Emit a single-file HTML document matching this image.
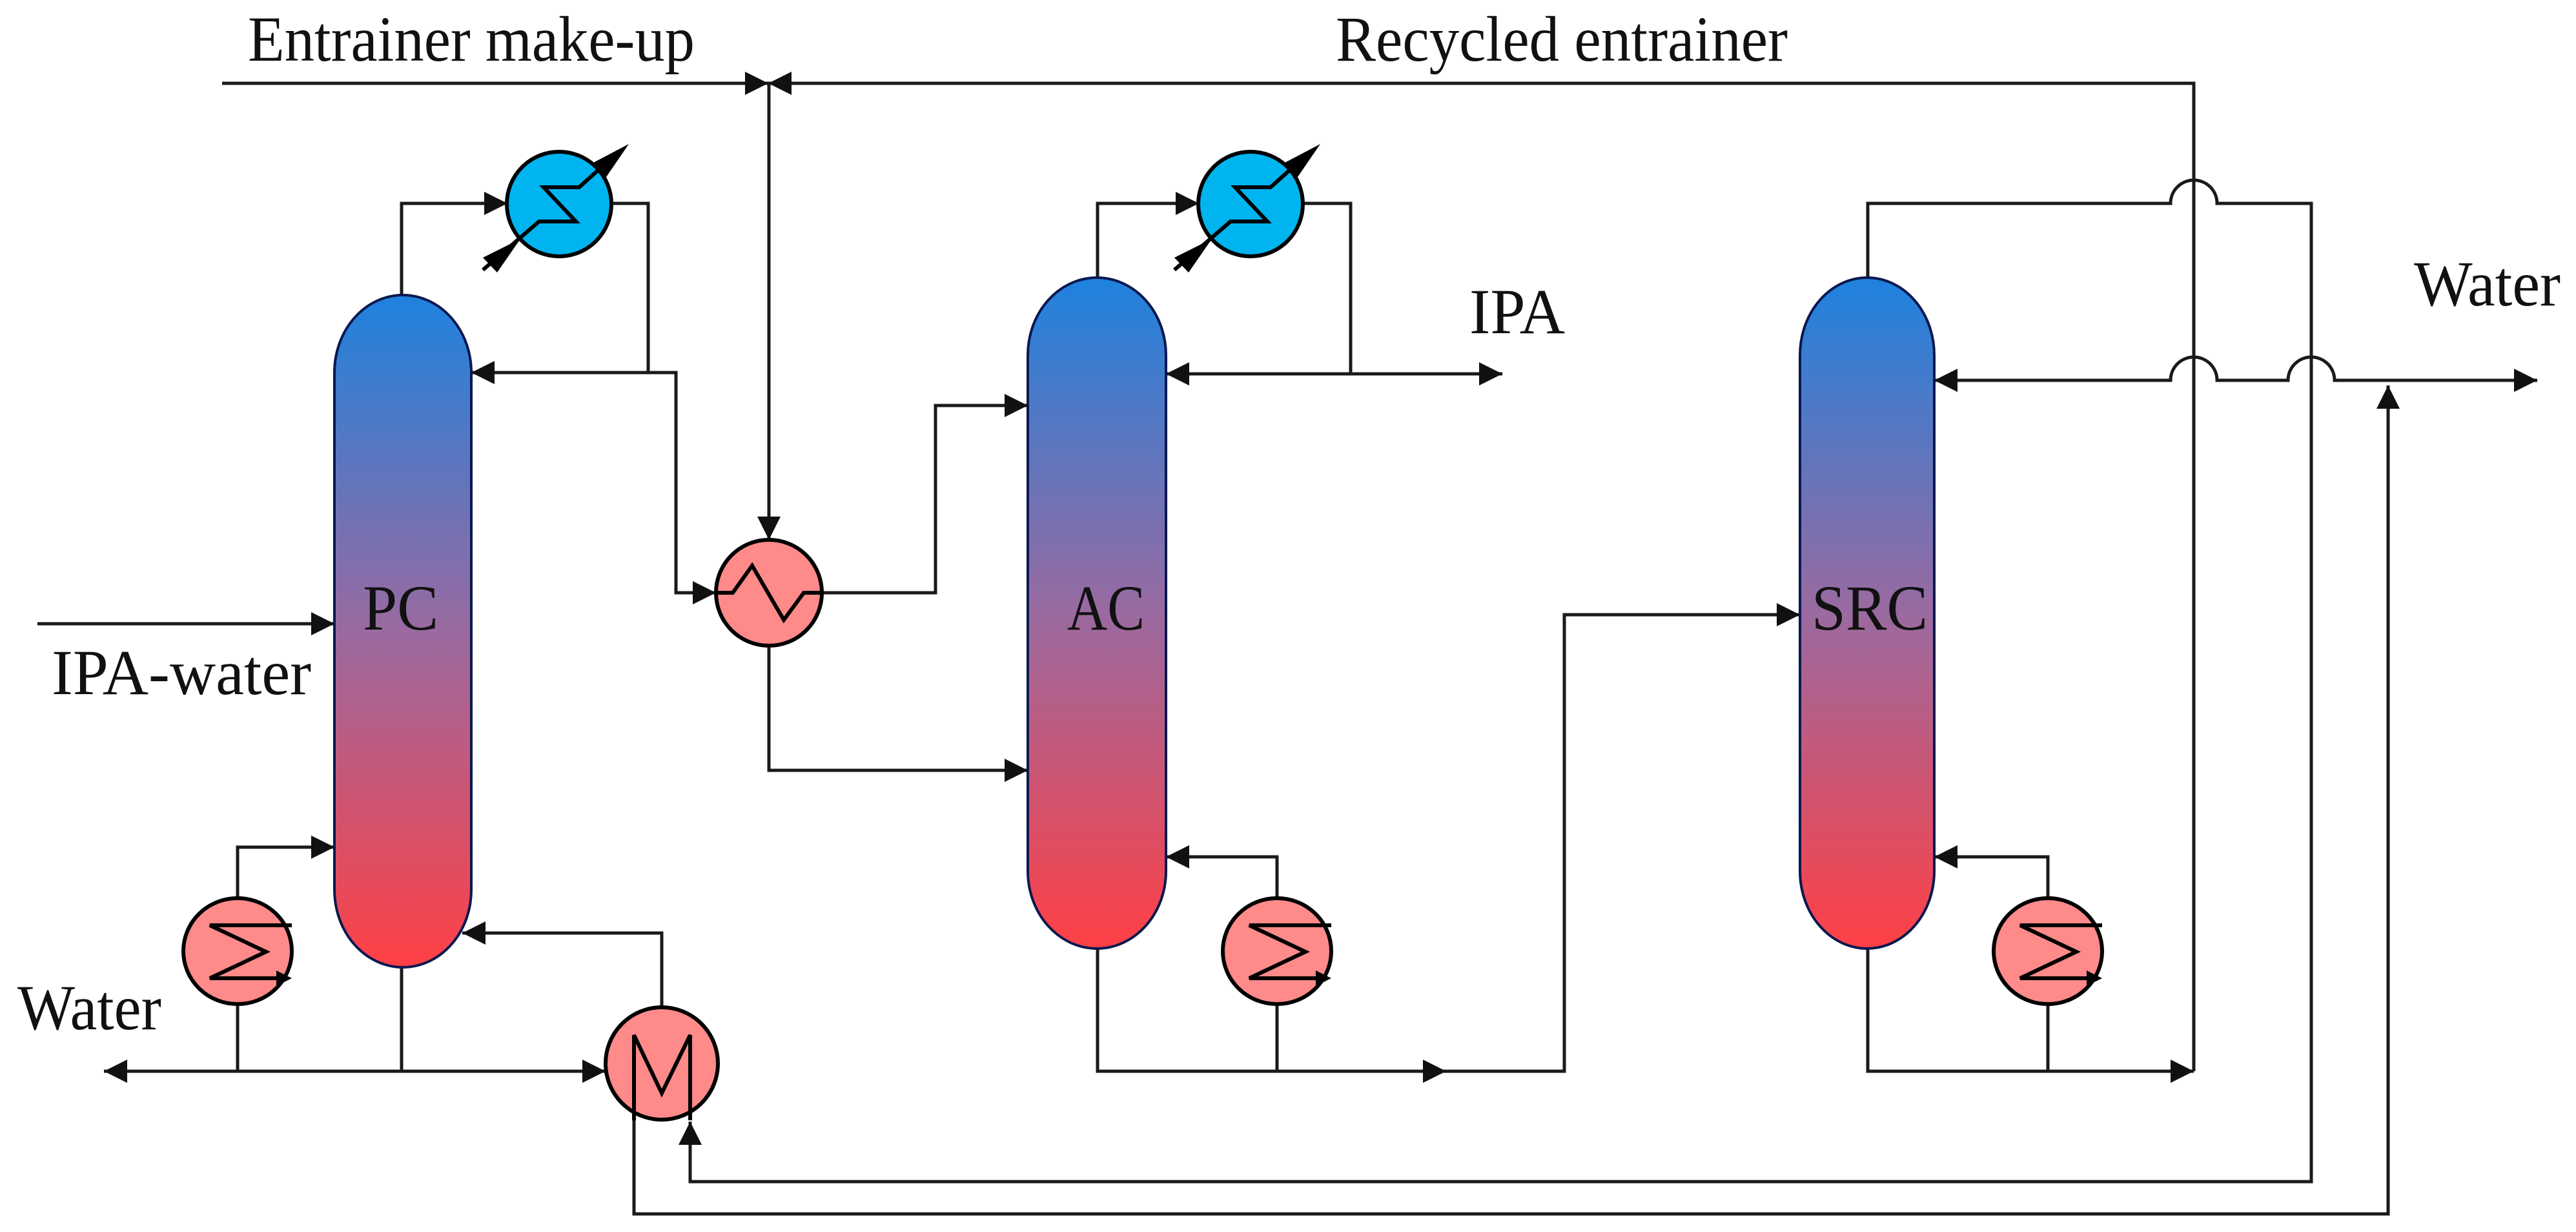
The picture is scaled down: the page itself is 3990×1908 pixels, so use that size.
<!DOCTYPE html>
<html><head><meta charset="utf-8"><style>
html,body{margin:0;padding:0;background:#fff;}
svg{display:block;}
text{font-family:"Liberation Serif",serif;fill:#111;}
</style></head><body>
<svg width="3990" height="1908" viewBox="0 0 3990 1908" xmlns="http://www.w3.org/2000/svg">
<defs>
<linearGradient id="g" x1="0" y1="0" x2="0" y2="1">
<stop offset="0" stop-color="#1e82de"/>
<stop offset="0.5" stop-color="#9a6aa0"/>
<stop offset="1" stop-color="#ff4045"/>
</linearGradient>
<g id="cond">
<circle cx="0" cy="0" r="81" fill="#00b4f0" stroke="#000" stroke-width="6"/>
<polyline points="-118,102 -31,27 26,27 -24,-26 31,-26 60,-52" fill="none" stroke="#000" stroke-width="6"/>
<polygon points="108,-93 51,-63 71,-39" fill="#000"/>
<polygon points="-60,54 -118,83 -96,106" fill="#000"/>
</g>
<g id="reb">
<ellipse cx="0" cy="0" rx="84" ry="82" fill="#ff8a8a" stroke="#000" stroke-width="6"/>
<polyline points="84,-40 -43,-40 44,1 -43,42 70,42" fill="none" stroke="#000" stroke-width="6"/>
<polygon points="84,42 60,30 60,54" fill="#000"/>
</g>
</defs>

<!-- texts -->
<text x="384" y="94" font-size="100" textLength="692" lengthAdjust="spacingAndGlyphs">Entrainer make-up</text>
<text x="2069" y="94" font-size="100" textLength="700" lengthAdjust="spacingAndGlyphs">Recycled entrainer</text>
<text x="80" y="1075" font-size="100" textLength="402" lengthAdjust="spacingAndGlyphs">IPA-water</text>
<text x="27" y="1594" font-size="100" textLength="223" lengthAdjust="spacingAndGlyphs">Water</text>
<text x="2276" y="516" font-size="100" textLength="148" lengthAdjust="spacingAndGlyphs">IPA</text>
<text x="3739" y="473" font-size="100" textLength="227" lengthAdjust="spacingAndGlyphs">Water</text>

<g fill="none" stroke="#1a1a1a" stroke-width="5">
<polyline points="344,129 1190,129"/>
<polyline points="1190,129 3398,129 3398,1659"/>
<polyline points="1191,129 1191,836"/>
<polyline points="622,457 622,315 786,315"/>
<polyline points="946,315 1004,315 1004,577 730,577"/>
<polyline points="1004,577 1047,577 1047,918 1109,918"/>
<polyline points="1273,918 1449,918 1449,628 1592,628"/>
<polyline points="1191,1000 1191,1193 1592,1193"/>
<polyline points="1700,430 1700,315 1857,315"/>
<polyline points="2017,315 2092,315 2092,579"/>
<polyline points="1806,579 2327,579"/>
<polyline points="1978,1391 1978,1327 1806,1327"/>
<polyline points="1700,1469 1700,1659 2423,1659 2423,952 2788,952"/>
<polyline points="1978,1555 1978,1659"/>
<path d="M2893,430 L2893,315 L3362,315 A36,36 0 0 1 3434,315 L3580,315 L3580,1830 L1069,1830 L1069,1737"/>
<path d="M2996,589 L3362,589 A36,36 0 0 1 3434,589 L3544,589 A36,36 0 0 1 3616,589 L3930,589"/>
<polyline points="3699,597 3699,1880 982,1880 982,1603"/>
<polyline points="3172,1391 3172,1327 2996,1327"/>
<polyline points="2893,1469 2893,1659 3398,1659"/>
<polyline points="3172,1555 3172,1659"/>
<polyline points="58,966 518,966"/>
<polyline points="368,1391 368,1312 518,1312"/>
<polyline points="1025,1560 1025,1445 716,1445"/>
<polyline points="161,1659 938,1659"/>
<polyline points="622,1498 622,1659"/>
<polyline points="368,1555 368,1659"/>
</g>

<rect x="518" y="457" width="212" height="1041" rx="106" ry="120" fill="url(#g)" stroke="#0b1850" stroke-width="4"/>
<rect x="1592" y="430" width="214" height="1039" rx="107" ry="120" fill="url(#g)" stroke="#0b1850" stroke-width="4"/>
<rect x="2788" y="430" width="208" height="1039" rx="104" ry="120" fill="url(#g)" stroke="#0b1850" stroke-width="4"/>
<text x="562" y="975" font-size="100" textLength="117" lengthAdjust="spacingAndGlyphs">PC</text>
<text x="1653" y="975" font-size="100" textLength="120" lengthAdjust="spacingAndGlyphs">AC</text>
<text x="2806" y="975" font-size="100" textLength="180" lengthAdjust="spacingAndGlyphs">SRC</text>

<use href="#cond" x="866" y="316"/>
<use href="#cond" x="1937" y="316"/>
<use href="#reb" x="368" y="1473"/>
<use href="#reb" x="1978" y="1473"/>
<use href="#reb" x="3172" y="1473"/>
<circle cx="1191" cy="918" r="82" fill="#ff8a8a" stroke="#000" stroke-width="6"/>
<polyline points="1109,918 1135,918 1165,876 1214,960 1245,918 1273,918" fill="none" stroke="#000" stroke-width="6"/>
<circle cx="1025" cy="1647" r="87" fill="#ff8a8a" stroke="#000" stroke-width="6"/>
<polyline points="982,1735 982,1603 1025,1693 1069,1603 1069,1735" fill="none" stroke="#000" stroke-width="6"/>

<g fill="#111">
<polygon points="1190,129 1154,111 1154,147"/>
<polygon points="1190,129 1226,111 1226,147"/>
<polygon points="1191,836 1173,800 1209,800"/>
<polygon points="786,315 750,297 750,333"/>
<polygon points="730,577 766,559 766,595"/>
<polygon points="1109,918 1073,900 1073,936"/>
<polygon points="1592,628 1556,610 1556,646"/>
<polygon points="1857,315 1821,297 1821,333"/>
<polygon points="1806,579 1842,561 1842,597"/>
<polygon points="2327,579 2291,561 2291,597"/>
<polygon points="1592,1193 1556,1175 1556,1211"/>
<polygon points="1806,1327 1842,1309 1842,1345"/>
<polygon points="2240,1659 2204,1641 2204,1677"/>
<polygon points="2788,952 2752,934 2752,970"/>
<polygon points="2996,589 3032,571 3032,607"/>
<polygon points="3930,589 3894,571 3894,607"/>
<polygon points="3699,597 3681,633 3717,633"/>
<polygon points="2996,1327 3032,1309 3032,1345"/>
<polygon points="3398,1659 3362,1641 3362,1677"/>
<polygon points="518,966 482,948 482,984"/>
<polygon points="518,1312 482,1294 482,1330"/>
<polygon points="716,1445 752,1427 752,1463"/>
<polygon points="161,1659 197,1641 197,1677"/>
<polygon points="938,1659 902,1641 902,1677"/>
<polygon points="1069,1737 1051,1773 1087,1773"/>
</g>
</svg>
</body></html>
